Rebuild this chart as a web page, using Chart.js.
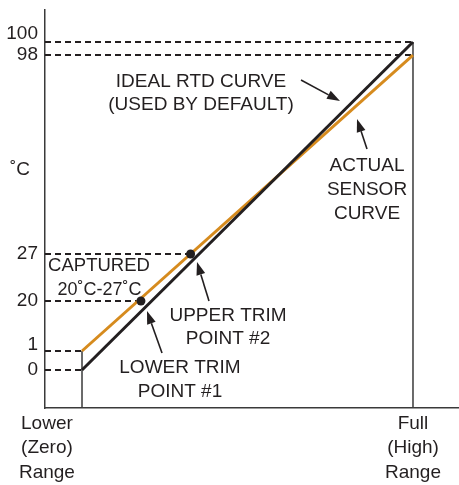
<!DOCTYPE html>
<html><head><meta charset="utf-8">
<script src="https://cdn.jsdelivr.net/npm/chart.js@4.4.1/dist/chart.umd.min.js"></script>
<style>html,body{margin:0;padding:0;background:#fff;}canvas{display:block;}</style>
</head><body>
<canvas id="c" width="459" height="485"></canvas>
<script>
// ---- data ----
const yTickValues = [0, 1, 20, 27, 98, 100];
const yTickLabels = ['0', '1', '20', '27', '98', '100'];
const xTickValues = [-10.6, 100];
const xTickLabels = [['Lower', '(Zero)', 'Range'], ['Full', '(High)', 'Range']];
const idealCurve = [{x: 0, y: 0}, {x: 100, y: 100}];
const actualCurve = [{x: 0, y: 1}, {x: 100, y: 98}];
const trimPoints = [{x: 17.8, y: 20}, {x: 32.8, y: 27}];
const guideLevels = [100, 98, 27, 20, 1, 0];
const guideEnds = [100, 100, 32.8, 17.8, 0, 0];
const rangeX = [0, 100];
const rangeTop = [1, 100];

// ---- styling / layout ----
const FONT = '"Liberation Sans", Arial, Helvetica, sans-serif';
const INK = '#231f20';
const ORANGE = '#d68b1e';
const X_MIN = -11.18, X_MAX = 113.9, Y_MIN = -10, Y_MAX = 110;
// schematic (non-linear) vertical axis: value -> fraction of axis height
const Y_KNOTS = [[-10, 0], [0, 0.0955], [1, 0.1432], [20, 0.2688], [27, 0.3869], [98, 0.8869], [100, 0.9196], [110, 1]];
const Y_LABEL_LIFT = {100: 8, 1: 6};

function valToDec(v) {
  const K = Y_KNOTS;
  for (let i = 1; i < K.length; i++) {
    if (v <= K[i][0] || i === K.length - 1) {
      const [v0, d0] = K[i - 1], [v1, d1] = K[i];
      return d0 + (v - v0) * (d1 - d0) / (v1 - v0);
    }
  }
}
function decToVal(d) {
  const K = Y_KNOTS;
  for (let i = 1; i < K.length; i++) {
    if (d <= K[i][1] || i === K.length - 1) {
      const [v0, d0] = K[i - 1], [v1, d1] = K[i];
      return v0 + (d - d0) * (v1 - v0) / (d1 - d0);
    }
  }
}
class PiecewiseScale extends Chart.LinearScale {
  getPixelForValue(v) { return this.getPixelForDecimal(valToDec(v)); }
  getValueForPixel(p) { return decToVal(this.getDecimalForPixel(p)); }
}
PiecewiseScale.id = 'piecewise';
PiecewiseScale.defaults = {};
Chart.register(PiecewiseScale);

const datasets = [
  {data: trimPoints, showLine: false, pointRadius: 4.5, pointBackgroundColor: INK, pointBorderWidth: 0, order: 0},
  {data: idealCurve, borderColor: INK, borderWidth: 3, pointRadius: 0, order: 1},
  {data: actualCurve, borderColor: ORANGE, borderWidth: 3, pointRadius: 0, order: 2}
];
guideLevels.forEach((lv, i) => {
  datasets.push({data: [{x: X_MIN, y: lv}, {x: guideEnds[i], y: lv}], borderColor: INK, borderWidth: 2,
    borderDash: [6, 4], pointRadius: 0, order: 5});
});
rangeX.forEach((xv, i) => {
  datasets.push({data: [{x: xv, y: Y_MIN}, {x: xv, y: rangeTop[i]}], borderColor: '#3a3a3a', borderWidth: 1.5,
    pointRadius: 0, order: 6});
});

const annotations = {
  id: 'annotations',
  afterDatasetsDraw(chart) {
    const ctx = chart.ctx;
    ctx.save();
    ctx.fillStyle = INK;
    ctx.textAlign = 'center';
    ctx.textBaseline = 'middle';
    const texts = [
      ['IDEAL RTD CURVE', 201, 82, 19], ['(USED BY DEFAULT)', 201, 105, 19],
      ['ACTUAL', 367, 166, 19], ['SENSOR', 367, 190, 19], ['CURVE', 367, 214, 19],
      ['CAPTURED', 99, 266, 18.5], ['20˚C-27˚C', 99.5, 290, 18],
      ['UPPER TRIM', 228, 316, 19], ['POINT #2', 228, 339, 19],
      ['LOWER TRIM', 180, 368, 19], ['POINT #1', 180, 392, 19],
      ['˚C', 20, 170, 19]
    ];
    texts.forEach(([t, x, y, s]) => { ctx.font = s + 'px ' + FONT; ctx.fillText(t, x, y); });
    const arrows = [[301, 80, 340, 101], [367, 149, 357, 119], [209, 301, 197, 262], [162, 353, 147, 311]];
    ctx.strokeStyle = INK;
    ctx.lineWidth = 1.6;
    arrows.forEach(([x0, y0, x1, y1]) => {
      const a = Math.atan2(y1 - y0, x1 - x0), L = 13, W = 4.5;
      const bx = x1 - L * Math.cos(a), by = y1 - L * Math.sin(a);
      ctx.beginPath(); ctx.moveTo(x0, y0); ctx.lineTo(bx, by); ctx.stroke();
      ctx.beginPath();
      ctx.moveTo(x1, y1);
      ctx.lineTo(bx + W * Math.sin(a), by - W * Math.cos(a));
      ctx.lineTo(bx - W * Math.sin(a), by + W * Math.cos(a));
      ctx.closePath(); ctx.fill();
    });
    ctx.restore();
  }
};

new Chart(document.getElementById('c'), {
  type: 'line',
  data: {datasets},
  options: {
    responsive: false,
    animation: false,
    events: [],
    layout: {autoPadding: false, padding: {top: 10, right: 0, left: 0, bottom: 0}},
    plugins: {legend: {display: false}, tooltip: {enabled: false}},
    scales: {
      x: {
        type: 'linear', min: X_MIN, max: X_MAX,
        grid: {display: false, drawTicks: false},
        border: {display: true, color: '#3a3a3a', width: 1.5},
        ticks: {autoSkip: false, maxRotation: 0, minRotation: 0, padding: 3, color: INK,
          font: {family: FONT, size: 19, lineHeight: 1.3},
          callback: (v, i) => xTickLabels[i]},
        afterBuildTicks: s => { s.ticks = xTickValues.map(v => ({value: v})); },
        afterFit: s => { s.height = 77; s.paddingLeft = 0; s.paddingRight = 0; }
      },
      y: {
        type: 'piecewise', min: Y_MIN, max: Y_MAX,
        grid: {display: false, drawTicks: false},
        border: {display: true, color: '#3a3a3a', width: 1.5},
        ticks: {autoSkip: false, padding: 7, color: INK,
          font: ctx => {
            const v = ctx.tick ? ctx.tick.value : null;
            const lift = Y_LABEL_LIFT[v];
            return {family: FONT, size: 19, lineHeight: lift ? (lift * 2) + 'px' : 1.2};
          },
          callback: (v, i) => Y_LABEL_LIFT[yTickValues[i]] ? [yTickLabels[i], ''] : yTickLabels[i]},
        afterBuildTicks: s => { s.ticks = yTickValues.map(v => ({value: v})); },
        afterFit: s => { s.width = 45; s.paddingTop = 0; s.paddingBottom = 0; }
      }
    }
  },
  plugins: [annotations]
});
</script>
</body></html>
